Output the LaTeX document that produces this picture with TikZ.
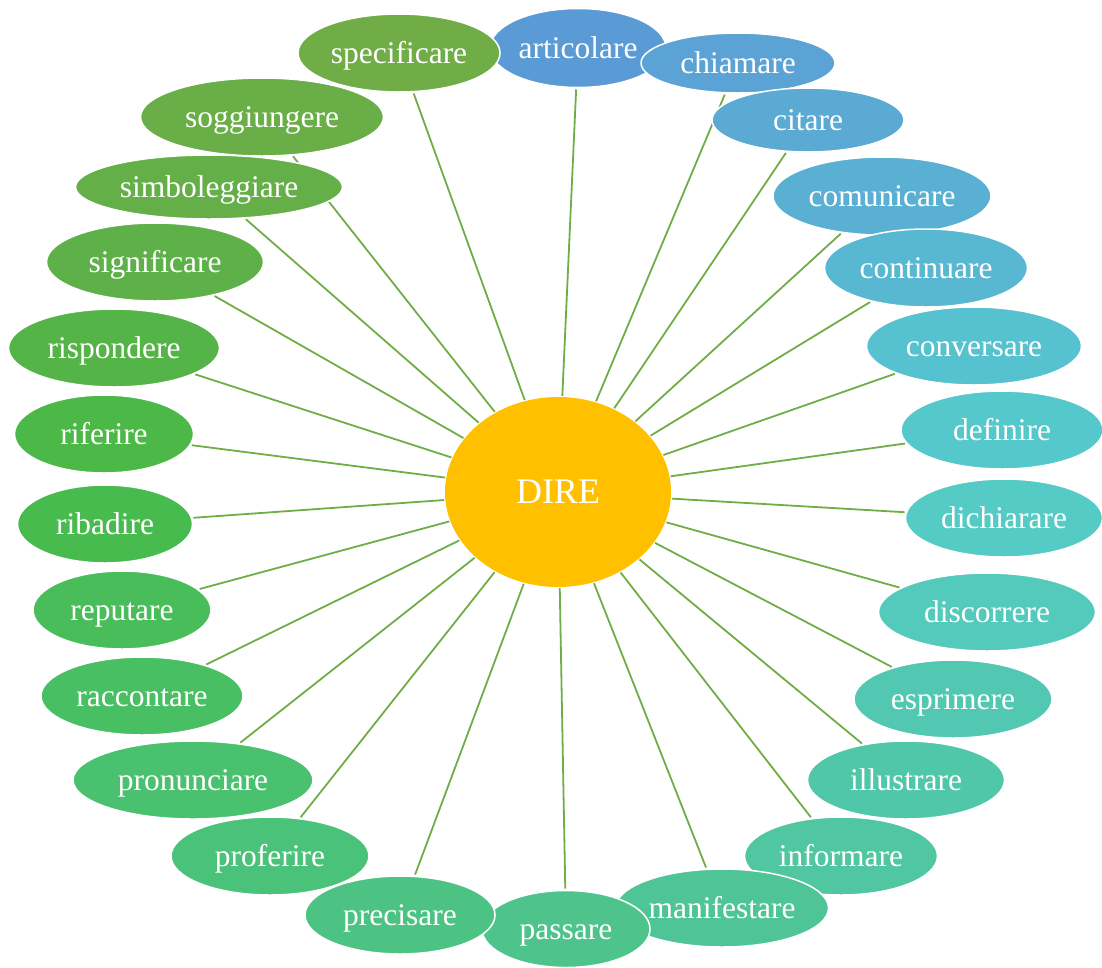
\documentclass[tikz,border=0pt]{standalone}
\usepackage{fontspec}
\setmainfont{Liberation Serif}
\usetikzlibrary{backgrounds,shapes.geometric}
\definecolor{c01}{HTML}{5B9BD5}
\definecolor{c02}{HTML}{5BA2D5}
\definecolor{c03}{HTML}{5AAAD4}
\definecolor{c04}{HTML}{59B0D3}
\definecolor{c05}{HTML}{58B7D1}
\definecolor{c06}{HTML}{56C1CF}
\definecolor{c07}{HTML}{55C8CB}
\definecolor{c08}{HTML}{54CBC5}
\definecolor{c09}{HTML}{53CABC}
\definecolor{c10}{HTML}{52C8B3}
\definecolor{c11}{HTML}{51C7AA}
\definecolor{c12}{HTML}{50C6A1}
\definecolor{c13}{HTML}{4FC597}
\definecolor{c14}{HTML}{4EC48C}
\definecolor{c15}{HTML}{4DC383}
\definecolor{c16}{HTML}{4BC279}
\definecolor{c17}{HTML}{4AC16F}
\definecolor{c18}{HTML}{49BF63}
\definecolor{c19}{HTML}{48BD59}
\definecolor{c20}{HTML}{48BB4E}
\definecolor{c21}{HTML}{4CB848}
\definecolor{c22}{HTML}{55B448}
\definecolor{c23}{HTML}{5DB148}
\definecolor{c24}{HTML}{64AF47}
\definecolor{c25}{HTML}{6AAE47}
\definecolor{c26}{HTML}{70AD47}
\definecolor{hub}{HTML}{FFC000}
\definecolor{linkc}{HTML}{70AD47}
\begin{document}
\begin{tikzpicture}[x=1pt,y=-1pt,
  leaf/.style={ellipse, draw=white, line width=1.5pt, text=white, inner sep=0pt, outer sep=0pt,
    text height=22pt, text depth=2pt, font=\fontsize{31.5}{36}\selectfont},
  hubnode/.style={ellipse, fill=hub, draw=none, text=white, inner sep=0pt,
    font=\fontsize{36}{42}\selectfont},
  conn/.style={draw=linkc, line width=1.8pt, shorten >=2pt, shorten <=1pt}]
\useasboundingbox (0,0) rectangle (1102,967);
\node[hubnode, minimum width=226pt, minimum height=190pt] (dire) at (558,492) {DIRE};
\node[leaf, fill=c01, minimum width=176pt, minimum height=79pt] (n01) at (578,48) {articolare};
\node[leaf, fill=c02, minimum width=194pt, minimum height=60pt] (n02) at (738,63) {chiamare};
\node[leaf, fill=c03, minimum width=192pt, minimum height=64pt] (n03) at (808,120) {citare};
\node[leaf, fill=c04, minimum width=218pt, minimum height=78pt] (n04) at (882,196) {comunicare};
\node[leaf, fill=c05, minimum width=203pt, minimum height=78pt] (n05) at (926,268) {continuare};
\node[leaf, fill=c06, minimum width=215pt, minimum height=78pt] (n06) at (974,346) {conversare};
\node[leaf, fill=c07, minimum width=202pt, minimum height=78pt] (n07) at (1002,430) {definire};
\node[leaf, fill=c08, minimum width=197pt, minimum height=78pt] (n08) at (1004,518) {dichiarare};
\node[leaf, fill=c09, minimum width=217pt, minimum height=78pt] (n09) at (987,612) {discorrere};
\node[leaf, fill=c10, minimum width=198pt, minimum height=78pt] (n10) at (953,699) {esprimere};
\node[leaf, fill=c11, minimum width=197pt, minimum height=78pt] (n11) at (906,780) {illustrare};
\node[leaf, fill=c12, minimum width=193pt, minimum height=78pt] (n12) at (841,856) {informare};
\node[leaf, fill=c13, minimum width=213pt, minimum height=78pt] (n13) at (722,908) {manifestare};
\node[leaf, fill=c14, minimum width=168pt, minimum height=77pt] (n14) at (566,929) {passare};
\node[leaf, fill=c15, minimum width=190pt, minimum height=78pt] (n15) at (400,915) {precisare};
\node[leaf, fill=c16, minimum width=198pt, minimum height=78pt] (n16) at (270,856) {proferire};
\node[leaf, fill=c17, minimum width=240pt, minimum height=78pt] (n17) at (193,780) {pronunciare};
\node[leaf, fill=c18, minimum width=202pt, minimum height=78pt] (n18) at (142,696) {raccontare};
\node[leaf, fill=c19, minimum width=178pt, minimum height=78pt] (n19) at (122,610) {reputare};
\node[leaf, fill=c20, minimum width=175pt, minimum height=78pt] (n20) at (105,524) {ribadire};
\node[leaf, fill=c21, minimum width=179pt, minimum height=78pt] (n21) at (104,434) {riferire};
\node[leaf, fill=c22, minimum width=211pt, minimum height=78pt] (n22) at (114,348) {rispondere};
\node[leaf, fill=c23, minimum width=217pt, minimum height=78pt] (n23) at (155,262) {significare};
\node[leaf, fill=c24, minimum width=267pt, minimum height=64pt] (n24) at (209,187) {simboleggiare};
\node[leaf, fill=c25, minimum width=243pt, minimum height=78pt] (n25) at (262,117) {soggiungere};
\node[leaf, fill=c26, minimum width=202pt, minimum height=78pt] (n26) at (399,53) {specificare};
\begin{pgfonlayer}{background}
\foreach \i in {01,02,03,04,05,06,07,08,09,10,11,12,13,14,15,16,17,18,19,20,21,22,23,24,25,26}
  \draw[conn] (dire) -- (n\i);
\end{pgfonlayer}
\end{tikzpicture}
\end{document}
